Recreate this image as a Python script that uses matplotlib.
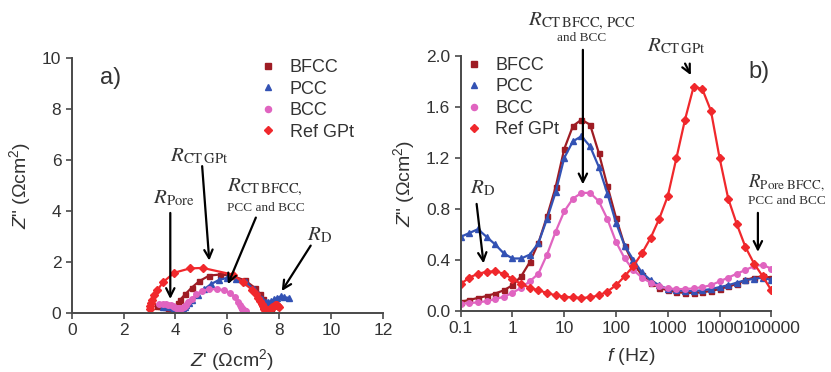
import matplotlib
matplotlib.use('Agg')
import matplotlib.pyplot as plt
from matplotlib.lines import Line2D

plt.rcParams['font.family'] = ['Liberation Sans', 'DejaVu Sans']
plt.rcParams['mathtext.fontset'] = 'custom'
plt.rcParams['mathtext.rm'] = 'Liberation Sans'
plt.rcParams['mathtext.it'] = 'Liberation Sans:italic'

# frequencies (Hz), 6 per decade, low -> high
freq = [0.1, 0.147, 0.215, 0.316, 0.464, 0.681, 1, 1.47, 2.15, 3.16, 4.64, 6.81,
        10, 14.7, 21.5, 31.6, 46.4, 68.1, 100, 147, 215, 316, 464, 681,
        1000, 1470, 2150, 3160, 4640, 6810, 10000, 14700, 21500, 31600, 46400, 68100, 100000]

# Z'' (ohm cm2)
bfcc_zim = [0.07, 0.085, 0.10, 0.115, 0.135, 0.16, 0.20, 0.27, 0.38, 0.53, 0.74, 0.97,
            1.27, 1.45, 1.50, 1.46, 1.24, 0.98, 0.73, 0.51, 0.37, 0.28, 0.22, 0.18,
            0.16, 0.145, 0.14, 0.14, 0.145, 0.155, 0.17, 0.19, 0.21, 0.24, 0.26, 0.27, 0.26]
pcc_zim = [0.58, 0.61, 0.64, 0.58, 0.52, 0.45, 0.41, 0.41, 0.44, 0.53, 0.72, 0.93,
           1.20, 1.33, 1.37, 1.29, 1.13, 0.92, 0.69, 0.51, 0.40, 0.30, 0.24, 0.20,
           0.17, 0.16, 0.155, 0.155, 0.16, 0.17, 0.185, 0.20, 0.22, 0.24, 0.25, 0.26, 0.24]
bcc_zim = [0.055, 0.06, 0.065, 0.075, 0.09, 0.11, 0.14, 0.18, 0.23, 0.29, 0.44, 0.62,
           0.78, 0.88, 0.925, 0.925, 0.86, 0.72, 0.54, 0.41, 0.32, 0.26, 0.22, 0.19,
           0.175, 0.17, 0.17, 0.175, 0.185, 0.20, 0.23, 0.26, 0.29, 0.32, 0.35, 0.36, 0.33]
ref_zim = [0.21, 0.26, 0.29, 0.305, 0.31, 0.29, 0.25, 0.21, 0.18, 0.16, 0.14, 0.12,
           0.11, 0.105, 0.10, 0.105, 0.12, 0.15, 0.20, 0.27, 0.35, 0.45, 0.57, 0.72,
           0.90, 1.20, 1.50, 1.76, 1.74, 1.57, 1.20, 0.88, 0.68, 0.50, 0.37, 0.27, 0.16]

# Z' (ohm cm2)
bfcc_zre = [7.67, 7.64, 7.61, 7.58, 7.55, 7.52, 7.49, 7.46, 7.43, 7.37, 7.25, 7.07,
            6.68, 6.18, 5.72, 5.30, 4.92, 4.62, 4.38, 4.18, 4.08, 4.05, 4.03, 4.01,
            3.98, 3.95, 3.92, 3.88, 3.85, 3.81, 3.77, 3.72, 3.66, 3.58, 3.50, 3.40, 3.30]
pcc_zre = [8.38, 8.20, 8.05, 7.92, 7.80, 7.68, 7.58, 7.50, 7.42, 7.33, 7.20, 7.02,
           6.70, 6.35, 6.00, 5.68, 5.38, 5.10, 4.85, 4.65, 4.52, 4.42, 4.35, 4.30,
           4.25, 4.21, 4.17, 4.13, 4.09, 4.04, 3.99, 3.93, 3.86, 3.78, 3.70, 3.60, 3.50]
bcc_zre = [6.71, 6.69, 6.67, 6.65, 6.63, 6.61, 6.58, 6.55, 6.52, 6.48, 6.40, 6.28,
           6.10, 5.88, 5.60, 5.30, 5.02, 4.80, 4.62, 4.50, 4.42, 4.36, 4.31, 4.27,
           4.23, 4.19, 4.15, 4.11, 4.07, 4.02, 3.96, 3.90, 3.82, 3.73, 3.62, 3.50, 3.38]
ref_zre = [7.98, 7.95, 7.92, 7.89, 7.86, 7.82, 7.78, 7.74, 7.70, 7.67, 7.64, 7.61,
           7.58, 7.55, 7.52, 7.49, 7.46, 7.43, 7.40, 7.36, 7.32, 7.27, 7.20, 7.10,
           6.95, 6.60, 6.20, 5.05, 4.55, 3.95, 3.52, 3.30, 3.18, 3.10, 3.05, 3.02, 3.00]

names = ['BFCC', 'PCC', 'BCC', 'Ref GPt']
colors = ['#9e1c24', '#3352b4', '#e064c0', '#f0282c']
markers = ['s', '^', 'o', 'D']
msizes = [3.6, 4.4, 4.0, 3.6]
zre = [bfcc_zre, pcc_zre, bcc_zre, ref_zre]
zim = [bfcc_zim, pcc_zim, bcc_zim, ref_zim]

fig = plt.figure(figsize=(8.31, 3.72), dpi=100)
axa = fig.add_axes([0.0863, 0.1594, 0.3746, 0.6839])
axb = fig.add_axes([0.5544, 0.1648, 0.3738, 0.6847])

for i in range(4):
    axa.plot(zre[i], zim[i], color=colors[i], marker=markers[i], ms=msizes[i], lw=1.6)
    axb.plot(freq, zim[i], color=colors[i], marker=markers[i], ms=msizes[i], lw=1.6)

for ax in (axa, axb):
    for s in ('top', 'right'):
        ax.spines[s].set_visible(False)
    for s in ('left', 'bottom'):
        ax.spines[s].set_color('#4a4a4a')
        ax.spines[s].set_linewidth(1.4)
    ax.tick_params(direction='out', length=4, width=1.2, colors='#4a4a4a',
                   labelsize=12.5, labelcolor='#333333')
    ax.tick_params(which='minor', direction='out', length=2.5, width=0.9, colors='#4a4a4a')

axa.set_xlim(0, 12)
axa.set_ylim(0, 10)
axa.set_xticks(range(0, 13, 2))
axa.set_yticks(range(0, 11, 2))

axb.set_xscale('log')
axb.set_xlim(0.1, 100000)
axb.set_ylim(0, 2.0)
axb.set_xticks([0.1, 1, 10, 100, 1000, 10000, 100000])
axb.set_xticklabels(['0.1', '1', '10', '100', '1000', '10000', '100000'])
axb.set_yticks([0.0, 0.4, 0.8, 1.2, 1.6, 2.0])
axb.set_yticklabels(['0.0', '0.4', '0.8', '1.2', '1.6', '2.0'])

ylab = r'$Z$" (Ωcm$^2$)'
axa.set_ylabel(ylab, fontsize=14, color='#333333')
axb.set_ylabel(ylab, fontsize=14, color='#333333')
axa.yaxis.set_label_coords(-0.125, 0.5)
axb.yaxis.set_label_coords(-0.14, 0.5)
axa.set_xlabel(r"$Z$' (Ωcm$^2$)", fontsize=14, color='#333333')
axb.set_xlabel(r'$f$ (Hz)', fontsize=14, color='#333333')
axa.xaxis.set_label_coords(0.516, -0.135)
axb.xaxis.set_label_coords(0.55, -0.14)

handles = [Line2D([], [], ls='none', color=colors[i], marker=markers[i], ms=msizes[i] + 0.4)
           for i in range(4)]
axa.legend(handles, names, loc='upper left', bbox_to_anchor=(0.55, 1.06), frameon=False,
           fontsize=13, handlelength=1.0, handletextpad=0.7, labelspacing=0.25,
           labelcolor='#333333')
axb.legend(handles, names, loc='upper left', bbox_to_anchor=(-0.04, 1.06), frameon=False,
           fontsize=13, handlelength=1.0, handletextpad=0.7, labelspacing=0.25,
           labelcolor='#333333')

axa.text(1.1, 9.22, 'a)', fontsize=17, va='center', color='#333333')
axb.text(36000, 1.875, 'b)', fontsize=17, va='center', color='#333333')

tkw = dict(fontsize=15, va='center', math_fontfamily='stix', color='#333333')
skw = dict(fontsize=9.5, va='center', family='Liberation Serif', color='#333333')
akw = dict(arrowstyle='->', lw=1.6, color='black', mutation_scale=15)

# panel a annotations
axa.text(3.15, 4.5, r'$R_{\rm Pore}$', **tkw)
axa.annotate('', xy=(3.80, 0.43), xytext=(3.80, 4.03), arrowprops=akw)
axa.text(3.8, 6.15, r'$R_{\rm CT\,GPt}$', **tkw)
axa.annotate('', xy=(5.31, 1.94), xytext=(5.02, 5.87), arrowprops=akw)
axa.text(5.98, 4.94, r'$R_{\rm CT\,BFCC,}$', **tkw)
axa.text(5.98, 4.12, 'PCC and BCC', **skw)
axa.annotate('', xy=(5.98, 1.02), xytext=(7.14, 3.84), arrowprops=akw)
axa.text(9.07, 3.05, r'$R_{\rm D}$', **tkw)
axa.annotate('', xy=(8.04, 0.76), xytext=(9.27, 2.73), arrowprops=akw)

# panel b annotations
axb.text(0.15, 0.96, r'$R_{\rm D}$', **tkw)
axb.annotate('', xy=(0.28, 0.35), xytext=(0.2, 0.86), arrowprops=akw)
axb.text(2.0, 2.27, r'$R_{\rm CT\,BFCC,\,PCC}$', **tkw)
axb.text(21.5, 2.14, 'and BCC', ha='center', **skw)
axb.annotate('', xy=(22.9, 0.97), xytext=(22.9, 2.07), arrowprops=akw, annotation_clip=False)
axb.text(400, 2.08, r'$R_{\rm CT\,GPt}$', **tkw)
axb.annotate('', xy=(2950, 1.83), xytext=(2040, 1.96), arrowprops=akw, annotation_clip=False)
axb.text(36000, 1.0, r'$R_{\rm Pore\ BFCC,}$', fontsize=13.5, va='center',
         math_fontfamily='stix', color='#333333')
axb.text(36000, 0.86, 'PCC and BCC', **skw)
axb.annotate('', xy=(55000, 0.44), xytext=(55000, 0.79), arrowprops=akw)

fig.savefig('out.png', dpi=100)
